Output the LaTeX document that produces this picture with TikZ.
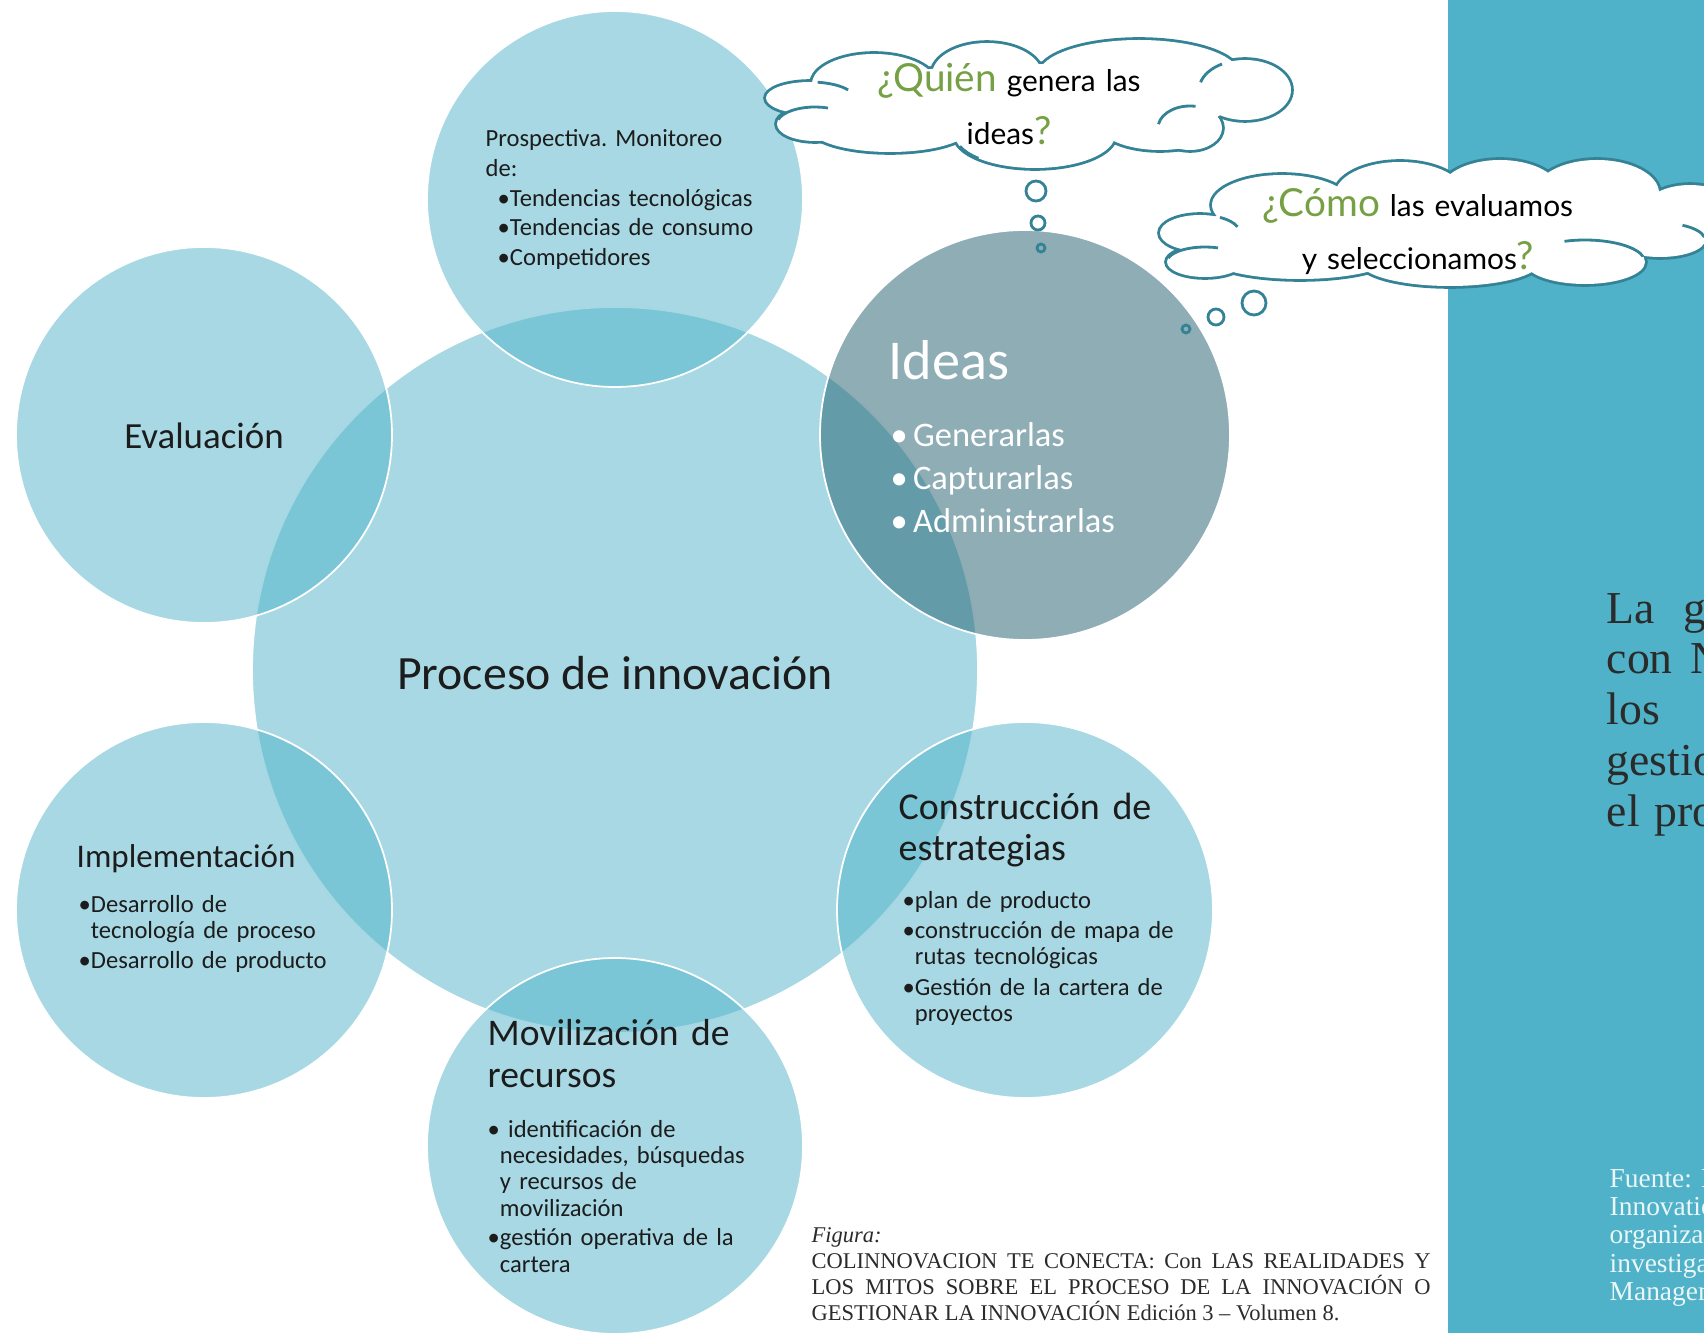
\documentclass[tikz,border=0pt]{standalone}
\usepackage{fontspec}
\setmainfont{Liberation Serif}
\newfontfamily\slidefont{Carlito}
\newfontfamily\bubblefont{Lato}
\frenchspacing
\definecolor{panelblue}{RGB}{79,178,200}
\definecolor{ideasteal}{RGB}{41,100,115}
\definecolor{cloudline}{RGB}{52,130,150}
\definecolor{askgreen}{RGB}{118,160,68}
\definecolor{inktext}{RGB}{28,28,28}
\definecolor{paneltext}{RGB}{43,43,43}
\definecolor{notetext}{RGB}{236,246,248}
\newcommand{\fs}[2]{\fontsize{#1}{#2}\selectfont}
% puffs of the two thought clouds: x/y/x radius/y radius
\newcommand{\quienpuffs}{874/84/62/30, 987/75/55/32, 1139/74/100/34, 1245/90/46/30, 1190/128/32/22, 1160/125/60/25, 1035/135/80/33, 890/128/80/24, 810/98/44/16, 815/124/38/17, 1028/104/200/40}
\newcommand{\comopuffs}{1282/205/70/30, 1400/195/65/33, 1500/192/60/32, 1597/193/62/33, 1690/215/50/30, 1660/240/45/17, 1585/262/60/22, 1450/262/90/24, 1300/255/95/24, 1200/233/40/18, 1205/262/38/15, 1440/225/230/40}
% inner curls: x/y/x radius/y radius/start/end
\newcommand{\quiencurls}{815/124/38/17/165/70, 810/98/44/16/80/30, 1190/128/32/22/170/80, 1245/90/46/30/165/120, 1035/135/80/33/200/225}
\newcommand{\comocurls}{1205/262/38/15/165/70, 1200/233/40/18/60/20, 1585/262/60/22/110/15, 1660/240/45/17/60/10}

\begin{document}
\begin{tikzpicture}[x=0.1mm,y=0.1mm,
  petal/.style={circle, inner sep=0pt, minimum size=37.6mm, fill=panelblue, fill opacity=0.5, draw=white, draw opacity=1, line width=0.5pt},
  hub/.style={petal, minimum size=72.6mm},
  ideasdisc/.style={petal, minimum size=41mm, fill=ideasteal, fill opacity=0.53},
  word/.style={inner sep=0pt, anchor=base, text=inktext},
  lbl/.style={inner sep=0pt, anchor=base west, align=left, text width=45mm, text=inktext},
  rim/.style={draw=cloudline, line width=1.6pt},
  curl/.style={draw=cloudline, line width=0.8pt},
  puff/.style={circle, draw=cloudline, line width=0.8pt, inner sep=0pt},
  ask/.style={inner sep=0pt, anchor=base, align=center, text width=50mm, font=\bubblefont\fs{8.5}{14.8}}
]
\useasboundingbox (0,0) rectangle (1704,-1333);
\fill[panelblue] (1448,0) rectangle (1704,-1333);

\node[hub] (proceso) at (615,-670) {};
\node[petal] (prospectiva) at (615,-199) {};
\node[petal] (evaluacion) at (204,-435) {};
\node[petal] (implementacion) at (204,-910) {};
\node[petal] (movilizacion) at (615,-1146) {};
\node[petal] (construccion) at (1025,-910) {};
\node[ideasdisc] (ideas) at (1025,-435) {};

\node[word, font=\slidefont\fs{13.6}{16}] (procesotxt) at (615,-689) {Proceso de innovación};
\node[word, font=\slidefont\fs{10.5}{12}] (evaluaciontxt) at (204,-449) {Evaluación};

\node[lbl, font=\slidefont\fs{7}{8.4}] (prospectivatxt) at (485,-147) {Prospectiva. Monitoreo\\de:\\
  \hspace*{1.2mm}•Tendencias tecnológicas\\\hspace*{1.2mm}•Tendencias de consumo\\\hspace*{1.2mm}•Competidores};

\node[lbl, text=white, font=\slidefont\fs{16}{18}] (ideastxt) at (888,-380) {Ideas};
\node[lbl, text=white, font=\slidefont\fs{9.8}{12.1}] (ideaslist) at (890,-447) {•\kern1.5pt Generarlas\\•\kern1.5pt Capturarlas\\•\kern1.5pt Administrarlas};

\node[lbl, font=\slidefont\fs{9.4}{11}] (implementaciontxt) at (76,-867) {Implementación};
\node[lbl, font=\slidefont\fs{7}{7.6}] (implementacionlist) at (78,-912) {•Desarrollo de\\\phantom{•}tecnología de proceso\\[0.8pt]•Desarrollo de producto};

\node[lbl, font=\slidefont\fs{10.8}{11.4}] (construcciontxt) at (898,-820) {Construcción de\\estrategias};
\node[lbl, font=\slidefont\fs{7}{7.4}] (construccionlist) at (902,-908) {•plan de producto\\[1.3pt]•construcción de mapa de\\\phantom{•}rutas tecnológicas\\[1.3pt]•Gestión de la cartera de\\\phantom{•}proyectos};

\node[lbl, font=\slidefont\fs{10.7}{12}] (movilizaciontxt) at (487,-1045) {Movilización de\\recursos};
\node[lbl, font=\slidefont\fs{7}{7.5}] (movilizacionlist) at (487,-1137) {• identificación de\\\phantom{•}necesidades, búsquedas\\\phantom{•}y recursos de\\\phantom{•}movilización\\[1pt]•gestión operativa de la\\\phantom{•}cartera};

\foreach \cx/\cy/\rx/\ry in \quienpuffs
  \draw[rim] (\cx,-\cy) ellipse[x radius=\rx, y radius=\ry];
\foreach \cx/\cy/\rx/\ry in \quienpuffs
  \fill[white] (\cx,-\cy) ellipse[x radius=\rx, y radius=\ry];
\foreach \cx/\cy/\rx/\ry/\sa/\ea in \quiencurls
  \draw[curl] ({\cx+\rx*cos(\sa)},{-\cy+\ry*sin(\sa)}) arc[start angle=\sa, end angle=\ea, x radius=\rx, y radius=\ry];
\node[ask] (quientxt) at (1009,-92) {{\color{askgreen}\fs{11}{14.8}¿Quién} genera las\\ideas{\color{askgreen}\fs{11}{14.8}?}};
\node[puff, minimum size=2mm] (quienb1) at (1036,-191) {};
\node[puff, minimum size=1.4mm] (quienb2) at (1038,-223) {};
\node[puff, minimum size=0.8mm] (quienb3) at (1041,-248) {};

\foreach \cx/\cy/\rx/\ry in \comopuffs
  \draw[rim] (\cx,-\cy) ellipse[x radius=\rx, y radius=\ry];
\foreach \cx/\cy/\rx/\ry in \comopuffs
  \fill[white] (\cx,-\cy) ellipse[x radius=\rx, y radius=\ry];
\foreach \cx/\cy/\rx/\ry/\sa/\ea in \comocurls
  \draw[curl] ({\cx+\rx*cos(\sa)},{-\cy+\ry*sin(\sa)}) arc[start angle=\sa, end angle=\ea, x radius=\rx, y radius=\ry];
\node[ask] (comotxt) at (1418,-217) {{\color{askgreen}\fs{11}{14.8}¿Cómo} las evaluamos\\y seleccionamos{\color{askgreen}\fs{11}{14.8}?}};
\node[puff, minimum size=2.4mm] (comob1) at (1254,-303) {};
\node[puff, minimum size=1.6mm] (comob2) at (1216,-317) {};
\node[puff, minimum size=0.8mm] (comob3) at (1186,-329) {};

\begin{scope}
  \clip (1448,0) rectangle (1704,-1333);
  \node[lbl, text=paneltext, font=\fs{13}{14.5}] (panelquote) at (1606,-623) {La\hspace{8.2pt}g\\con\hspace{5.1pt}N\\los\\gestio\\el pro};
  \node[lbl, text=notetext, font=\fs{7.8}{8.1}] (panelnote) at (1609,-1187) {Fuente: N\\Innovation\\organization\\investigation\\Management};
\end{scope}

\node[lbl, text=paneltext, text width=61.9mm, align=justify, font=\fs{6.4}{7.4}] (caption) at (811,-1242) {\textit{Figura:}\\
  COLINNOVACION TE CONECTA: Con LAS REALIDADES Y\linebreak LOS MITOS SOBRE EL PROCESO DE LA INNOVACIÓN O\linebreak GESTIONAR LA INNOVACIÓN Edición 3 – Volumen 8.};
\end{tikzpicture}
\end{document}
